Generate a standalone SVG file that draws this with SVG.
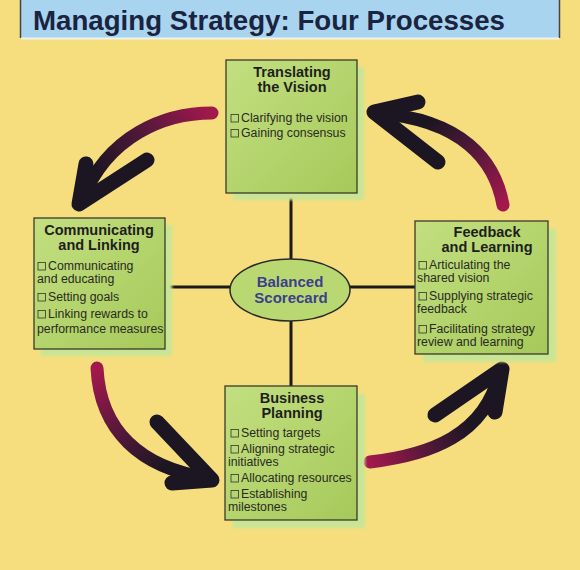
<svg xmlns="http://www.w3.org/2000/svg" width="580" height="570" viewBox="0 0 580 570">
<defs>
<linearGradient id="gb" x1="0" y1="0" x2="1" y2="1">
<stop offset="0" stop-color="#c3df80"/>
<stop offset="1" stop-color="#a6c95a"/>
</linearGradient>
<linearGradient id="a1" gradientUnits="userSpaceOnUse" x1="212" y1="113" x2="95" y2="170">
<stop offset="0" stop-color="#a3184d"/><stop offset="0.6" stop-color="#4c1838"/><stop offset="1" stop-color="#1c1522"/>
</linearGradient>
<linearGradient id="a2" gradientUnits="userSpaceOnUse" x1="503" y1="205" x2="430" y2="120">
<stop offset="0" stop-color="#a3184d"/><stop offset="0.6" stop-color="#4c1838"/><stop offset="1" stop-color="#1c1522"/>
</linearGradient>
<linearGradient id="a3" gradientUnits="userSpaceOnUse" x1="97" y1="368" x2="170" y2="465">
<stop offset="0" stop-color="#a3184d"/><stop offset="0.6" stop-color="#4c1838"/><stop offset="1" stop-color="#1c1522"/>
</linearGradient>
<linearGradient id="a4" gradientUnits="userSpaceOnUse" x1="370" y1="462" x2="470" y2="425">
<stop offset="0" stop-color="#a3184d"/><stop offset="0.6" stop-color="#4c1838"/><stop offset="1" stop-color="#1c1522"/>
</linearGradient>
<filter id="blur" x="-10%" y="-10%" width="130%" height="130%"><feGaussianBlur stdDeviation="1.5"/></filter>
<style>
.box{fill:url(#gb);stroke:#3a3a2c;stroke-width:1.3}
.sh{fill:#c8e595;filter:url(#blur)}
.t{font-family:"Liberation Sans",Arial,sans-serif;font-weight:bold;font-size:14.5px;fill:#1e1e1e;text-anchor:middle}
.i{font-family:"Liberation Sans",Arial,sans-serif;font-size:12.3px;fill:#2a2a22}
.cb{fill:none;stroke:#333;stroke-width:0.8}
.ln{stroke:#1a1a1a;stroke-width:3;fill:none}
.shaft{fill:none;stroke-width:13;stroke-linecap:round}
.head{fill:none;stroke:#1c1522;stroke-width:15;stroke-linecap:round;stroke-linejoin:round}
</style>
</defs>
<rect width="580" height="570" fill="#f6de7e"/>
<g id="title">
<rect x="20" y="0" width="540" height="38" fill="#a9d4ef"/>
<line x1="20.5" y1="0" x2="20.5" y2="38" stroke="#444" stroke-width="1.5"/>
<line x1="559.5" y1="0" x2="559.5" y2="38" stroke="#444" stroke-width="1.5"/>
<line x1="21" y1="38.5" x2="559" y2="38.5" stroke="#eef3ee" stroke-width="2"/>
<text x="33" y="30" font-family="'Liberation Sans',Arial,sans-serif" font-weight="bold" font-size="27.5" fill="#1a2340" textLength="472" lengthAdjust="spacingAndGlyphs">Managing Strategy: Four Processes</text>
</g>
<g id="connectors">
<line class="ln" x1="291" y1="193" x2="291" y2="262"/>
<line class="ln" x1="291" y1="320" x2="291" y2="386"/>
<line class="ln" x1="165" y1="287" x2="231" y2="287"/>
<line class="ln" x1="350" y1="287" x2="415" y2="287"/>
</g>
<g id="arrows">
<path class="shaft" stroke="url(#a1)" d="M212,113 C165,113 108,135 82,200"/>
<path class="head" d="M147,160 L79,204 L86,164"/>
<path class="shaft" stroke="url(#a2)" d="M503,205 C495,160 462,120 378,113"/>
<path class="head" d="M418,102 L374,112 L438,162"/>
<path class="shaft" stroke="url(#a3)" d="M97,368 C100,430 140,468 208,478"/>
<path class="head" d="M157,422 L212,480 L172,483"/>
<path class="shaft" stroke="url(#a4)" d="M370,462 C430,455 485,435 499,374"/>
<path class="head" d="M435,415 L502,369 L495,412"/>
</g>
<g id="center">
<ellipse cx="290" cy="290" rx="60" ry="31" fill="#b9d872" stroke="#2a2a2a" stroke-width="1.5"/>
<text x="290" y="287" font-family="'Liberation Sans',Arial,sans-serif" font-weight="bold" font-size="15" fill="#3b3f8c" text-anchor="middle">Balanced</text>
<text x="291" y="303" font-family="'Liberation Sans',Arial,sans-serif" font-weight="bold" font-size="15" fill="#3b3f8c" text-anchor="middle">Scorecard</text>
</g>
<g id="translating">
<rect class="sh" x="233" y="67" width="131" height="133"/>
<rect class="box" x="226" y="60" width="131" height="133"/>
<text class="t" x="292" y="77">Translating</text>
<text class="t" x="292" y="92">the Vision</text>
<rect class="cb" x="231" y="114.5" width="7.5" height="7.5"/>
<text class="i" x="241" y="122">Clarifying the vision</text>
<rect class="cb" x="231" y="129.5" width="7.5" height="7.5"/>
<text class="i" x="241" y="137">Gaining consensus</text>
</g>
<g id="communicating">
<rect class="sh" x="41" y="225" width="131" height="131"/>
<rect class="box" x="34" y="218" width="131" height="131"/>
<text class="t" x="99" y="235">Communicating</text>
<text class="t" x="99" y="250">and Linking</text>
<rect class="cb" x="38" y="262.5" width="7.5" height="7.5"/>
<text class="i" x="48" y="270">Communicating</text>
<text class="i" x="37" y="283">and educating</text>
<rect class="cb" x="38" y="293.5" width="7.5" height="7.5"/>
<text class="i" x="48" y="301">Setting goals</text>
<rect class="cb" x="38" y="310.5" width="7.5" height="7.5"/>
<text class="i" x="48" y="318">Linking rewards to</text>
<text class="i" x="37" y="333">performance measures</text>
</g>
<g id="feedback">
<rect class="sh" x="423" y="229" width="133" height="133"/>
<rect class="box" x="415" y="221" width="133" height="133"/>
<text class="t" x="487" y="237">Feedback</text>
<text class="t" x="487" y="252">and Learning</text>
<rect class="cb" x="419" y="261.5" width="7.5" height="7.5"/>
<text class="i" x="429" y="269">Articulating the</text>
<text class="i" x="417" y="282">shared vision</text>
<rect class="cb" x="419" y="292.5" width="7.5" height="7.5"/>
<text class="i" x="429" y="300">Supplying strategic</text>
<text class="i" x="417" y="313">feedback</text>
<rect class="cb" x="419" y="325.5" width="7.5" height="7.5"/>
<text class="i" x="429" y="333">Facilitating strategy</text>
<text class="i" x="417" y="346">review and learning</text>
</g>
<g id="business">
<rect class="sh" x="233" y="394" width="132" height="134"/>
<rect class="box" x="225" y="386" width="132" height="134"/>
<text class="t" x="292" y="403">Business</text>
<text class="t" x="292" y="418">Planning</text>
<rect class="cb" x="231" y="429.5" width="7.5" height="7.5"/>
<text class="i" x="241" y="437">Setting targets</text>
<rect class="cb" x="231" y="445.5" width="7.5" height="7.5"/>
<text class="i" x="241" y="453">Aligning strategic</text>
<text class="i" x="228" y="466">initiatives</text>
<rect class="cb" x="231" y="474.5" width="7.5" height="7.5"/>
<text class="i" x="241" y="482">Allocating resources</text>
<rect class="cb" x="231" y="490.5" width="7.5" height="7.5"/>
<text class="i" x="241" y="498">Establishing</text>
<text class="i" x="228" y="511">milestones</text>
</g>
</svg>
